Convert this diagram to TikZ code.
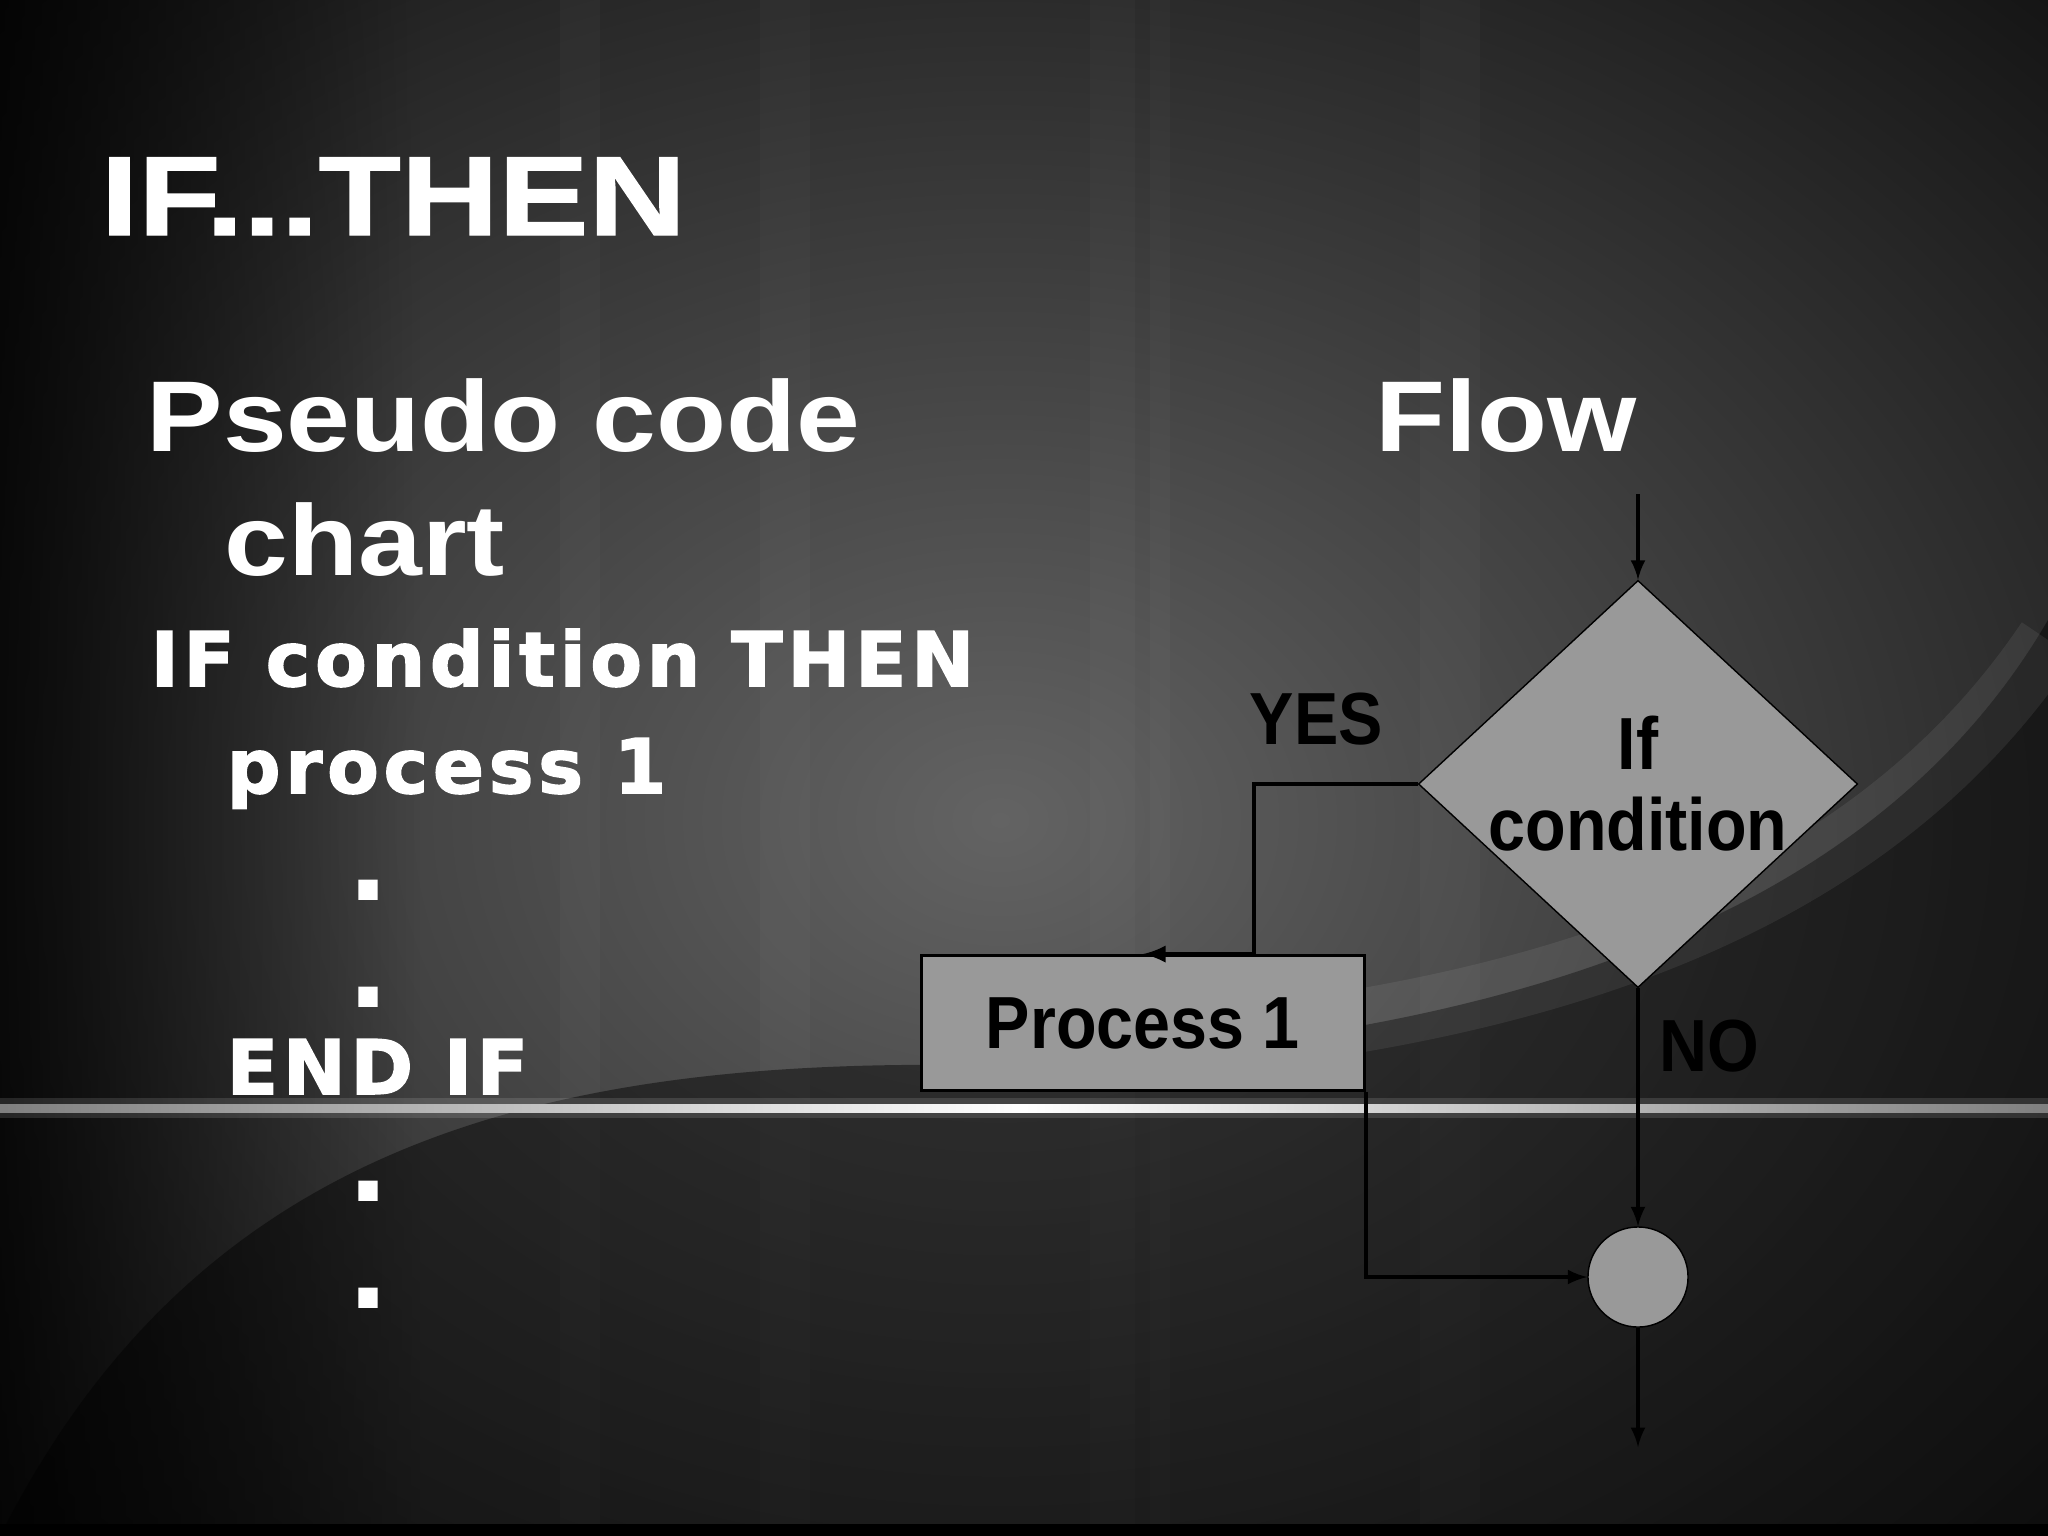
\documentclass[tikz,border=0pt]{standalone}
\usepackage{fontspec}
\setmainfont{Liberation Sans}
\newfontfamily\titlefont[FakeStretch=1.2,FakeBold=1.2]{Liberation Sans}
\newfontfamily\slidefont[FakeStretch=1.14]{Liberation Sans}
\newfontfamily\codefont[LetterSpace=6.3,FakeBold=2]{DejaVu Sans}
\newfontfamily\chartfont[FakeStretch=0.9]{Liberation Sans}
\usetikzlibrary{positioning,shapes.geometric,arrows,fadings}

\definecolor{bgbase}{HTML}{151515}
\definecolor{glow}{HTML}{636363}
\definecolor{boxgray}{HTML}{999999}

\tikzfading[name=fade right, left color=transparent!0, right color=transparent!100]

\begin{document}
\begin{tikzpicture}[x=0.01cm, y=-0.01cm, >=latex,
    title/.style={anchor=base west, inner sep=0pt, text=white,
        font=\titlefont\bfseries\fontsize{32}{38}\selectfont},
    heading/.style={anchor=base west, inner sep=0pt, text=white,
        font=\slidefont\bfseries\fontsize{28.6}{34}\selectfont},
    code/.style={anchor=base west, inner sep=0pt, text=white,
        font=\codefont\bfseries\fontsize{21.4}{26}\selectfont},
    chartlabel/.style={inner sep=0pt, text=black, align=center,
        font=\chartfont\bfseries\fontsize{21}{23}\selectfont},
    decision/.style={diamond, draw=black, fill=boxgray, inner sep=0pt,
        minimum width=4.39cm, minimum height=4.07cm},
    process/.style={rectangle, draw=black, fill=boxgray, thick,
        minimum width=4.43cm, minimum height=1.35cm},
    merge/.style={circle, draw=black, fill=boxgray, inner sep=0pt, minimum size=1cm},
    flow/.style={->, line width=0.9pt}
]
\useasboundingbox (0,0) rectangle (2048,1536);

% background
\fill[bgbase] (0,0) rectangle (2048,1536);
\shade[inner color=glow, outer color=bgbase] (1000,820) ellipse (1500 and 1150);
\fill[black, opacity=0.8, path fading=fade right] (0,0) rectangle (420,1536);
\foreach \x/\w in {760/50, 1090/45, 1150/20, 1420/60, 560/40}
    \fill[white, opacity=0.025] (\x,0) rectangle (\x+\w,1536);
\fill[black, opacity=0.45] (0,1536) .. controls (180,1180) and (480,1070) .. (900,1065)
    .. controls (1400,1060) and (1850,960) .. (2048,620) -- (2048,1536) -- cycle;
\draw[white, opacity=0.07, line width=18pt] (1300,1030) .. controls (1650,980) and (1900,860) .. (2048,640);
\fill[white, opacity=0.12] (0,1098) rectangle (2048,1118);
\shade[left color=gray, right color=gray, middle color=white] (0,1104) rectangle (2048,1112);
\fill[black] (0,1524) rectangle (2048,1536);

% pseudo code
\node[title] (head) at (100,235) {IF...THEN};
\node[heading] (pseudo) at (146,451) {Pseudo code};
\node[heading] (chart) at (224,575) {chart};
\node[heading] (flowhead) at (1375,451) {Flow};
\node[code] (ifline) at (150,686) {IF condition THEN};
\node[code] (procline) at (226,793) {process 1};
\node[code] (endline) at (226,1094) {END IF};
\foreach \y [count=\i] in {899,1006,1200,1307}
    \node[code, anchor=base, scale=1.3] (dot\i) at (368,\y) {.};

% flow chart
\coordinate (start) at (1638,494);
\node[decision, label={[chartlabel]center:If\\condition}] (cond) at (1638,784) {};
\node[process] (proc) at (1143,1023) {};
\node[chartlabel] (proctext) at (proc.center) {Process 1};
\node[merge] (join) at (1638,1277) {};
\coordinate (finish) at (1638,1447);
\coordinate (yesbend) at (1254,784);
\node[chartlabel, anchor=base west] (yes) at (1249,744) {YES};
\node[chartlabel, anchor=base west] (no) at (1659,1071) {NO};

\draw[flow] (start) -- (cond.north);
\draw[flow, line width=1.2pt] (cond.west) -- (yesbend) |- (proc.north);
\draw[flow] (cond.south) -- (join.north);
\draw[flow] (proc.south east) |- (join.west);
\draw[flow] (join.south) -- (finish);

\end{tikzpicture}
\end{document}
